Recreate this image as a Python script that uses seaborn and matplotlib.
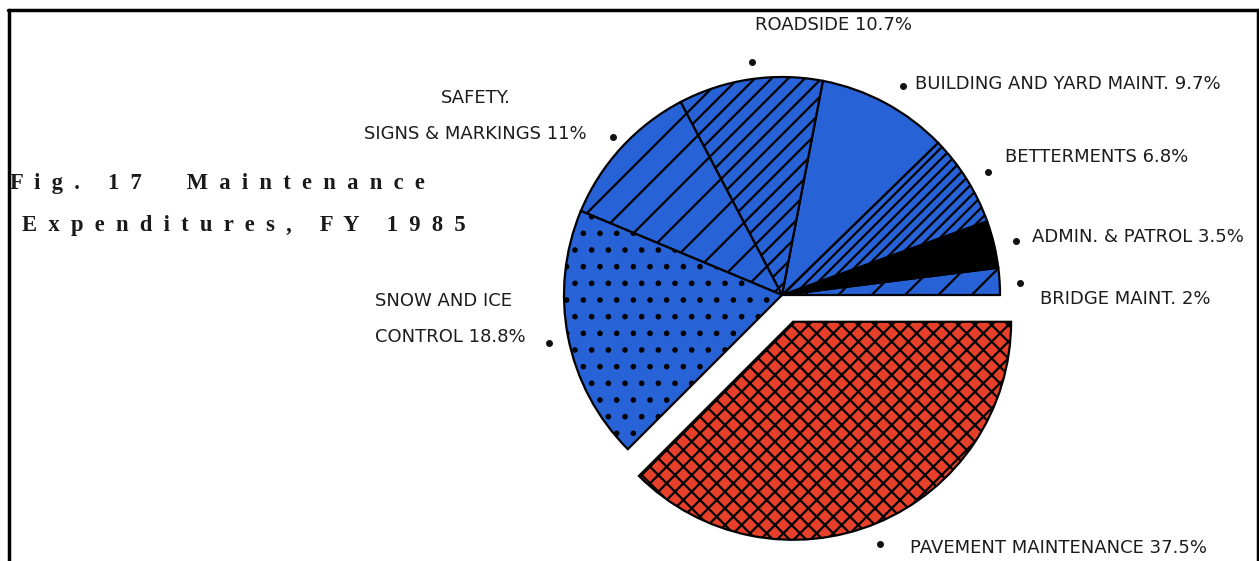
import matplotlib
matplotlib.use("Agg")
import matplotlib.pyplot as plt
import seaborn as sns
from matplotlib.lines import Line2D

sns.set_theme(style="white")
plt.rcParams['font.family'] = ['DejaVu Sans']
plt.rcParams['hatch.linewidth'] = 1.6

W, H = 1259, 561

# slices, counterclockwise from 3 o'clock
categories = ["BRIDGE MAINT.", "ADMIN. & PATROL", "BETTERMENTS",
              "BUILDING AND YARD MAINT.", "ROADSIDE", "SAFETY, SIGNS & MARKINGS",
              "SNOW AND ICE CONTROL", "PAVEMENT MAINTENANCE"]
shares = [2.0, 3.5, 6.8, 9.7, 10.7, 11.0, 18.8, 37.5]
label_texts = ["BRIDGE MAINT. 2%", "ADMIN. & PATROL 3.5%", "BETTERMENTS 6.8%",
               "BUILDING AND YARD MAINT. 9.7%", "ROADSIDE 10.7%",
               "SAFETY.\nSIGNS & MARKINGS 11%", "SNOW AND ICE\nCONTROL 18.8%",
               "PAVEMENT MAINTENANCE 37.5%"]

blue = "#2762d6"
red = "#e6402a"
colors = [blue, "black", blue, blue, blue, blue, blue, red]
hatches = ["/", "", "///", "", "//", "/", ".", "xx"]
explode = [0, 0, 0, 0, 0, 0, 0, 0.133]

fig = plt.figure(figsize=(W / 100, H / 100), dpi=100)
fig.patch.set_facecolor("white")

# pie axes: radius 1 -> 218 px, centred at (782, 295) px
cx, cy, r = 782, 295, 218
side = 2.5 * r
ax = fig.add_axes([(cx - side / 2) / W, (H - cy - side / 2) / H, side / W, side / H])
wedges, _ = ax.pie(shares, colors=colors, explode=explode, startangle=0,
                   counterclock=True,
                   wedgeprops=dict(edgecolor="black", linewidth=1.6))
for w, h in zip(wedges, hatches):
    w.set_hatch(h)

# labels (pixel positions: text x, text y, dot x, dot y, alignment)
label_pos = [
    (1040, 299, 1020, 283, "left"),
    (1032, 237, 1016, 241, "left"),
    (1005, 157, 988, 172, "left"),
    (915, 84, 903, 86, "left"),
    (755, 25, 752, 62, "left"),
    (587, 116, 613, 137, "right"),
    (375, 319, 549, 343, "left"),
    (910, 548, 880, 544, "left"),
]
for txt, (tx, ty, dx, dy, ha) in zip(label_texts, label_pos):
    fig.text(tx / W, 1 - ty / H, txt, ha=ha, va="center", fontsize=13,
             color="#1c1c1c", linespacing=2.35,
             multialignment="center" if "SAFETY" in txt else "left")
    fig.add_artist(Line2D([dx / W], [1 - dy / H], marker="o", markersize=4,
                          color="#111111", transform=fig.transFigure))

# title with wide letter spacing
title1 = "F  i  g  .     1  7        M  a  i  n  t  e  n  a  n  c  e"
title2 = "E  x  p  e  n  d  i  t  u  r  e  s  ,     F  Y     1  9  8  5"
for t, x, y in [(title1, 10, 184), (title2, 22, 225)]:
    fig.text(x / W, 1 - y / H, t, ha="left", va="center", fontsize=16.3,
             fontweight="bold", family=["Liberation Serif", "DejaVu Serif"],
             color="#1a1a1a")

# page frame
for xs, ys in [([8, 1258], [10, 10]), ([8.5, 8.5], [10, H]), ([1257.5, 1257.5], [10, H])]:
    fig.add_artist(Line2D([x / W for x in xs], [1 - y / H for y in ys],
                          color="black", linewidth=2.5, transform=fig.transFigure))

fig.savefig("out.png", dpi=100)
